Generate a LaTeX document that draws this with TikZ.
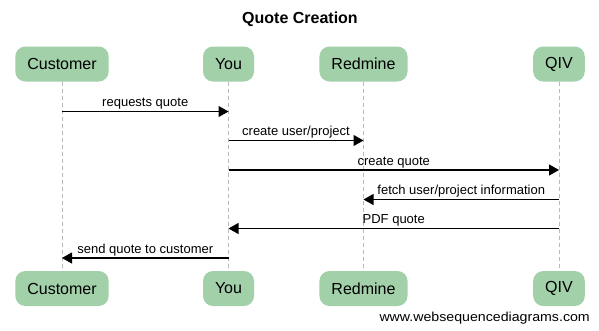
\documentclass[tikz,border=0pt]{standalone}
\usepackage{fontspec}
\setmainfont{Liberation Sans}
\usetikzlibrary{arrows.meta,calc}
\definecolor{actorfill}{RGB}{161,208,169}
\definecolor{lifegray}{RGB}{185,185,185}
\tikzset{
  actor/.style={draw=none, fill=actorfill, rounded corners=10pt,
    minimum height=35pt, inner xsep=12pt, inner ysep=0pt,
    font=\fontsize{16}{18}\selectfont},
  lifeline/.style={draw=lifegray, dash pattern=on 4pt off 3pt, line width=0.8pt},
  msg/.style={draw=black, line width=1.1pt,
    -{Triangle[length=10pt,width=11pt]}},
  msglabel/.style={anchor=base, inner sep=0pt, font=\fontsize{13}{15}\selectfont},
}
\begin{document}
\begin{tikzpicture}[x=1pt,y=-1pt]
  \useasboundingbox (0,0) rectangle (599,330);
  \fill[white] (0,0) rectangle (599,330);

  % title
  \node[font=\bfseries\fontsize{16}{18}\selectfont] (title) at (300,19) {Quote Creation};

  % participants, top and bottom
  \node[actor] (custT) at (62,64)    {Customer};
  \node[actor] (youT)  at (228.5,64) {You};
  \node[actor] (redT)  at (363.5,64) {Redmine};
  \node[actor] (qivT)  at (559,64)   {QIV};
  \node[actor] (custB) at (62,288.5)    {Customer};
  \node[actor] (youB)  at (228.5,288.5) {You};
  \node[actor] (redB)  at (363.5,288.5) {Redmine};
  \node[actor] (qivB)  at (559,288.5)   {QIV};

  % lifelines
  \draw[lifeline] (custT) -- (custB);
  \draw[lifeline] (youT) -- (youB);
  \draw[lifeline] (redT) -- (redB);
  \draw[lifeline] (qivT) -- (qivB);

  % message rows
  \coordinate (r1) at (0,111.5);
  \coordinate (r2) at (0,140.5);
  \coordinate (r3) at (0,170);
  \coordinate (r4) at (0,199.5);
  \coordinate (r5) at (0,228.5);
  \coordinate (r6) at (0,258);

  % end points on the lifelines
  \coordinate (m1a) at (custT |- r1); \coordinate (m1b) at (youT |- r1);
  \coordinate (m2a) at (youT |- r2);  \coordinate (m2b) at (redT |- r2);
  \coordinate (m3a) at (youT |- r3);  \coordinate (m3b) at (qivT |- r3);
  \coordinate (m4a) at (qivT |- r4);  \coordinate (m4b) at (redT |- r4);
  \coordinate (m5a) at (qivT |- r5);  \coordinate (m5b) at (youT |- r5);
  \coordinate (m6a) at (youT |- r6);  \coordinate (m6b) at (custT |- r6);

  % messages
  \draw[msg] (m1a) -- (m1b);
  \draw[msg] (m2a) -- (m2b);
  \draw[msg] (m3a) -- (m3b);
  \draw[msg] (m4a) -- (m4b);
  \draw[msg] (m5a) -- (m5b);
  \draw[msg] (m6a) -- (m6b);

  % message labels
  \node[msglabel] (l1) at ($(m1a)!0.5!(m1b)+(0,-5)$) {requests quote};
  \node[msglabel] (l2) at ($(m2a)!0.5!(m2b)+(0,-5)$) {create user/project};
  \node[msglabel] (l3) at ($(m3a)!0.5!(m3b)+(0,-5)$) {create quote};
  \node[msglabel] (l4) at ($(m4a)!0.5!(m4b)+(0,-5)$) {fetch user/project information};
  \node[msglabel] (l5) at ($(m5a)!0.5!(m5b)+(0,-5)$) {PDF quote};
  \node[msglabel] (l6) at ($(m6a)!0.5!(m6b)+(0,-5)$) {send quote to customer};

  % footer
  \node[anchor=base east, inner sep=0pt, font=\fontsize{13}{15}\selectfont]
    (site) at (590,321) {\scalebox{1.09}[1]{www.websequencediagrams.com}};
\end{tikzpicture}
\end{document}
